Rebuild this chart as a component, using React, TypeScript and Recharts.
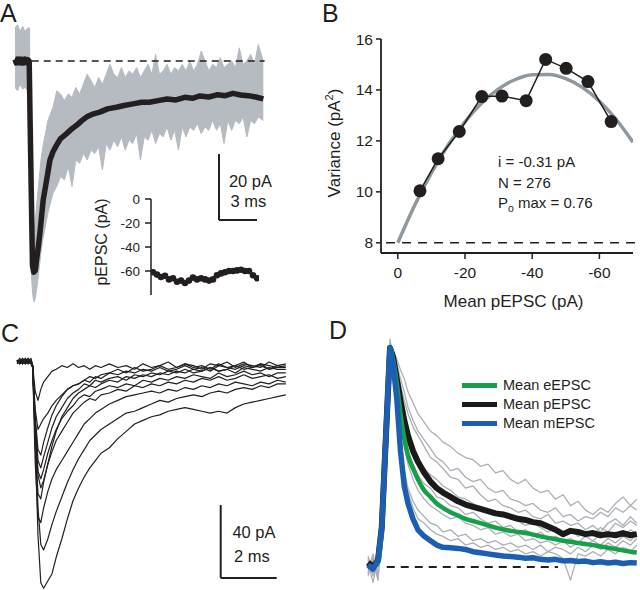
import React from 'react';
import { ComposedChart, LineChart, Line, Area, XAxis, YAxis, ReferenceLine, Legend } from 'recharts';

const FONT = '"Liberation Sans", Arial, Helvetica, sans-serif';
const INK = '#231f20';

// ---------------- Panel A : pEPSC mean (black) and individual trace spread (gray) ----------------
const aMeanT = [0, 0.1, 0.2, 0.3, 0.4, 0.5, 0.6, 0.7, 0.8, 0.9, 1.0, 1.12, 1.2, 1.38, 1.48, 1.6, 1.71, 1.85, 1.97, 2.1, 2.23, 2.5, 2.76, 3.0, 3.28, 3.6, 4.07, 4.5, 4.86, 5.3, 5.64, 6.2, 6.69, 7.3, 8.0, 8.6, 9.3, 10.0, 10.6, 11.3, 12.0, 12.7, 13.4, 14.0, 14.6, 15.3, 16.0, 16.6, 17.2, 17.8, 18.4, 19.0, 19.6];
const aMeanI = [0.5, -0.6, 0.6, -0.5, 0.6, -0.6, 0.5, -0.6, 0.6, -0.5, 0.4, 0, -20, -62, -64, -63.5, -60, -56, -52, -47, -42, -36, -30, -27.5, -25.5, -23.5, -22, -20.5, -19.5, -18, -17, -16, -15.5, -14.5, -14, -13.5, -13, -12.5, -12.5, -12, -11.5, -11.8, -11, -11.3, -10.6, -10.9, -10.2, -10.5, -9.8, -10.3, -10.5, -10.9, -11.5];
const aBandT = [0, 0.2, 0.4, 0.6, 0.8, 1.0, 1.15, 1.2, 1.3, 1.4, 1.5, 1.6, 1.75, 1.9, 2.05, 2.2, 2.4, 2.6, 2.8, 3.0, 3.3, 3.6, 3.9, 4.2, 4.5, 4.8, 5.1, 5.4, 5.7, 6.0, 6.3, 6.6, 6.9, 7.2, 7.5, 7.8, 8.1, 8.4, 8.7, 9.0, 9.3, 9.6, 9.9, 10.2, 10.5, 10.8, 11.1, 11.4, 11.7, 12.0, 12.3, 12.6, 12.9, 13.2, 13.5, 13.8, 14.1, 14.4, 14.7, 15.0, 15.3, 15.6, 15.9, 16.2, 16.5, 16.8, 17.1, 17.4, 17.7, 18.0, 18.3, 18.6, 18.9, 19.2, 19.6];
const aBandHi = [10, 11, 9, 10.5, 9, 10, 10, -25, -40, -48, -52, -48, -42, -36, -30, -26, -22, -18, -16, -14, -9, -10, -12, -10, -11, -8, -10, -7, -4, -6, -8, -5, -7, -4, -1, -4, -5, -2, -5, -3, -4, -2, -5, -3, -1, -4, 2, -4, -3, -1, -4, -2, -3, -1, -3, 0, -3, -1, 3, 0, -3, -1, -2, 1, -2, -1, 0, -2, 4, -1, 0, 2, -1, 5, 0];
const aBandLo = [-8, -9, -7, -8.5, -8, -9, -9, -45, -65, -71, -73, -72, -68, -63, -58, -54, -50, -46, -43, -40, -38, -35, -36, -32, -38, -30, -31, -28, -30, -27, -28, -26, -33, -25, -27, -24, -26, -23, -27, -24, -25, -22, -30, -23, -24, -21, -25, -22, -23, -20, -24, -21, -27, -20, -23, -20, -21, -19, -22, -20, -21, -18, -21, -19, -25, -18, -21, -18, -19, -17, -23, -18, -19, -17, -18];
const aInsetPEPSC = [-61, -63, -65, -64, -67, -66, -69, -68, -70, -68, -65.5, -67, -66, -67, -68, -67, -63.5, -62, -61, -60, -60, -59.5, -59, -60, -60, -63.5, -66];
const aInsetTicks = [0, -20, -40, -60];

// ---------------- Panel B : variance / mean ----------------
const bMeanPEPSC = [-6.6, -12.0, -18.3, -25.0, -31.0, -38.2, -44.0, -50.1, -56.6, -63.5];
const bVariance = [10.04, 11.3, 12.37, 13.74, 13.76, 13.58, 15.2, 14.85, 14.33, 12.76];
const bFitMean = [0, -5, -10, -15, -20, -25, -30, -35, -40, -45, -50, -55, -60, -65, -70];
const bFitVar = [8, 9.46, 10.74, 11.84, 12.75, 13.49, 14.04, 14.41, 14.6, 14.61, 14.44, 14.09, 13.56, 12.84, 11.95];
const bXTicks = [0, -20, -40, -60];
const bYTicks = [8, 10, 12, 14, 16];

// ---------------- Panel C : individual pEPSCs ----------------
const cTime = [0, 0.1, 0.2, 0.3, 0.4, 0.5, 0.56, 0.65, 0.75, 0.85, 0.95, 1.1, 1.25, 1.4, 1.6, 1.8, 2.0, 2.2, 2.4, 2.6, 2.8, 3.0, 3.3, 3.6, 3.9, 4.2, 4.5, 4.8, 5.1, 5.4, 5.7, 6.0, 6.3, 6.6, 6.9, 7.2, 7.5, 7.8, 8.1, 8.4, 8.7, 9.0, 9.3, 9.6];
const cTrace1 = [1, -1, 2, -1, 1, 0, -2, -16, -21, -15, -11, -8, -5, -4, -2, -3, -1, -3, -2, -4, -2, -3, -1, -3, -2, -4, -1, -3, -2, 0, -3, -1, -2, -4, -1, -2, 0, -3, -1, -2, -3, 0, -2, -1];
const cTrace2 = [0, 1, -1, 2, 0, -1, -3, -26, -37, -34, -31, -28, -24, -21, -18, -15, -13, -12, -10, -11, -8, -9, -6, -7, -5, -6, -4, -5, -3, -5, -4, -2, -4, -3, -5, -2, -3, -4, -2, -3, -1, -4, -2, -3];
const cTrace3 = [1, 0, 2, -1, 1, 0, -3, -30, -48, -51, -44, -36, -29, -24, -19, -15, -13, -12, -10, -8, -9, -7, -6, -4, -6, -3, -5, -4, -2, -4, -3, -1, -3, -2, -4, -1, -3, -2, 0, -3, -1, -2, -3, -2];
const cTrace4 = [-1, 1, 0, 2, -1, 1, -2, -32, -54, -58, -52, -44, -36, -30, -25, -20, -17, -15, -12, -13, -10, -11, -9, -8, -10, -7, -8, -6, -7, -5, -6, -4, -6, -5, -3, -5, -4, -6, -3, -4, -5, -3, -4, -4];
const cTrace5 = [0, -1, 1, 0, 2, -1, -3, -34, -60, -64, -59, -50, -43, -37, -31, -27, -24, -20, -18, -19, -16, -15, -13, -14, -12, -13, -10, -11, -9, -10, -8, -9, -7, -8, -9, -6, -8, -7, -5, -7, -6, -8, -6, -6];
const cTrace6 = [1, 0, -1, 1, 0, 2, -2, -36, -62, -69, -65, -56, -46, -38, -30, -25, -20, -17, -15, -13, -14, -12, -10, -11, -8, -9, -7, -8, -6, -7, -5, -6, -4, -5, -3, -5, -4, -2, -4, -3, -2, -4, -3, -3];
const cTrace7 = [0, 2, 0, -1, 1, 0, -3, -45, -72, -75, -66, -56, -49, -43, -38, -33, -28, -25, -22, -20, -21, -18, -17, -15, -16, -13, -14, -12, -13, -11, -12, -10, -11, -9, -10, -8, -10, -9, -7, -9, -8, -7, -9, -8];
const cTrace8 = [1, -1, 0, 1, -1, 0, -2, -55, -85, -88, -80, -71, -64, -59, -54, -49, -44, -39, -34, -31, -28, -26, -23, -21, -19, -18, -17, -16, -17, -15, -16, -14, -15, -13, -14, -12, -13, -11, -12, -13, -11, -12, -10, -11];
const cTrace9 = [0, 1, -1, 0, 2, 0, -2, -40, -80, -100, -103, -97, -89, -82, -74, -66, -59, -53, -48, -43, -40, -37, -34, -31, -28, -27, -25, -23, -21, -22, -20, -19, -18, -19, -17, -16, -17, -15, -14, -15, -13, -14, -12, -12];
const cTrace10 = [1, 0, 1, -1, 0, 1, -2, -42, -95, -121, -124, -120, -116, -107, -97, -86, -76, -69, -63, -58, -54, -50, -47, -42, -38, -34, -32, -30, -29, -27, -26, -25, -26, -27, -28, -27, -28, -25, -23, -22, -21, -20, -19, -18];

// ---------------- Panel D : normalised currents ----------------
const dTime = [0, 0.2, 0.4, 0.55, 0.65, 0.75, 0.88, 1.0, 1.15, 1.3, 1.45, 1.6, 1.8, 2.0, 2.25, 2.5, 2.75, 3.0, 3.3, 3.6, 3.9, 4.2, 4.5, 4.8, 5.1, 5.4, 5.7, 6.0, 6.3, 6.6, 6.9, 7.2, 7.5, 7.8, 8.1, 8.4, 8.7, 9.0, 9.3, 9.6, 9.9, 10.2, 10.5, 10.75];
const dMeanE = [0, 0, 0.02, 0.18, 0.43, 0.68, 1.0, 0.95, 0.84, 0.7, 0.59, 0.51, 0.45, 0.4, 0.35, 0.32, 0.29, 0.27, 0.25, 0.235, 0.22, 0.21, 0.2, 0.19, 0.18, 0.172, 0.165, 0.16, 0.155, 0.148, 0.14, 0.133, 0.127, 0.12, 0.115, 0.11, 0.105, 0.1, 0.094, 0.088, 0.082, 0.076, 0.07, 0.066];
const dMeanP = [0.02, 0, 0.03, 0.18, 0.43, 0.68, 1.0, 0.96, 0.86, 0.76, 0.67, 0.6, 0.53, 0.48, 0.43, 0.39, 0.36, 0.34, 0.32, 0.3, 0.285, 0.275, 0.265, 0.255, 0.245, 0.24, 0.23, 0.22, 0.215, 0.205, 0.2, 0.185, 0.17, 0.15, 0.165, 0.16, 0.15, 0.155, 0.145, 0.15, 0.145, 0.155, 0.145, 0.15];
const dMeanM = [0.01, -0.01, 0.03, 0.18, 0.43, 0.68, 1.0, 0.93, 0.77, 0.53, 0.37, 0.29, 0.22, 0.17, 0.14, 0.12, 0.1, 0.09, 0.088, 0.085, 0.08, 0.07, 0.065, 0.06, 0.055, 0.05, 0.048, 0.045, 0.04, 0.042, 0.035, 0.032, 0.035, 0.028, 0.03, 0.025, 0.027, 0.02, 0.024, 0.018, 0.022, 0.016, 0.02, 0.018];
const dCell1 = [0.03, -0.04, 0.05, 0.2, 0.46, 0.74, 1.03, 0.99, 0.95, 0.9, 0.86, 0.8, 0.75, 0.7, 0.66, 0.62, 0.6, 0.57, 0.55, 0.52, 0.5, 0.49, 0.46, 0.47, 0.43, 0.44, 0.4, 0.38, 0.4, 0.36, 0.34, 0.35, 0.31, 0.33, 0.28, 0.3, 0.26, 0.24, 0.27, 0.25, 0.29, 0.32, 0.28, 0.31];
const dCell2 = [-0.02, 0.04, -0.03, 0.16, 0.4, 0.7, 0.98, 0.97, 0.9, 0.83, 0.76, 0.7, 0.64, 0.6, 0.55, 0.5, 0.48, 0.45, 0.41, 0.4, 0.36, 0.37, 0.33, 0.3, 0.31, 0.28, 0.27, 0.25, 0.26, 0.23, 0.22, 0.24, 0.2, 0.21, 0.19, 0.2, 0.17, 0.19, 0.16, 0.2, 0.22, 0.19, 0.23, 0.2];
const dCell3 = [0.05, -0.02, 0.02, 0.22, 0.48, 0.77, 1.01, 0.94, 0.82, 0.7, 0.6, 0.53, 0.47, 0.42, 0.38, 0.36, 0.32, 0.31, 0.28, 0.27, 0.24, 0.25, 0.22, 0.2, 0.21, 0.18, 0.19, 0.16, 0.17, 0.14, 0.16, 0.13, 0.14, 0.12, 0.13, 0.11, 0.14, 0.12, 0.15, 0.13, 0.16, 0.14, 0.17, 0.15];
const dCell4 = [-0.04, 0.03, -0.06, 0.15, 0.42, 0.72, 0.99, 0.9, 0.72, 0.56, 0.44, 0.36, 0.3, 0.26, 0.23, 0.2, 0.19, 0.16, 0.17, 0.14, 0.15, 0.12, 0.13, 0.11, 0.12, 0.1, 0.11, 0.09, 0.1, 0.08, 0.1, 0.07, 0.09, 0.08, 0.06, 0.09, 0.07, 0.1, 0.08, 0.11, 0.09, 0.12, 0.1, 0.13];
const dCell5 = [0.02, -0.07, 0.04, 0.19, 0.45, 0.75, 1.04, 0.88, 0.7, 0.52, 0.42, 0.34, 0.27, 0.22, 0.2, 0.17, 0.15, 0.14, 0.12, 0.13, 0.1, 0.11, 0.09, 0.1, 0.08, 0.09, 0.07, 0.08, 0.06, 0.07, 0.05, 0.07, 0.06, 0.04, -0.06, 0.06, 0.05, 0.07, 0.05, 0.08, 0.06, 0.09, 0.07, 0.1];
const dCell6 = [-0.01, 0.05, -0.03, 0.17, 0.44, 0.7, 0.97, 0.96, 0.88, 0.78, 0.7, 0.63, 0.55, 0.5, 0.45, 0.42, 0.4, 0.37, 0.35, 0.32, 0.31, 0.29, 0.27, 0.26, 0.24, 0.25, 0.22, 0.21, 0.19, 0.2, 0.18, 0.16, 0.18, 0.15, 0.17, 0.14, 0.16, 0.15, 0.18, 0.16, 0.2, 0.18, 0.21, 0.19];
const dCell7 = [0.04, -0.03, 0.02, 0.2, 0.47, 0.76, 1.0, 0.93, 0.8, 0.66, 0.55, 0.47, 0.4, 0.35, 0.31, 0.28, 0.26, 0.24, 0.22, 0.23, 0.2, 0.19, 0.17, 0.18, 0.15, 0.16, 0.14, 0.15, 0.12, 0.13, 0.11, 0.12, 0.1, 0.12, 0.09, 0.11, 0.1, 0.12, 0.1, 0.13, 0.11, 0.14, 0.12, 0.15];
const dCell8 = [-0.03, 0.06, -0.05, 0.18, 0.45, 0.73, 1.02, 0.98, 0.93, 0.86, 0.8, 0.73, 0.67, 0.62, 0.58, 0.54, 0.5, 0.48, 0.44, 0.45, 0.41, 0.39, 0.4, 0.36, 0.34, 0.35, 0.31, 0.3, 0.28, 0.29, 0.26, 0.25, 0.27, 0.23, 0.24, 0.21, 0.23, 0.22, 0.25, 0.23, 0.27, 0.25, 0.28, 0.26];
const dLegendOrder = ['Mean eEPSC', 'Mean pEPSC', 'Mean mEPSC'];

// ---------------- derived tables ----------------
const aMeanData = aMeanT.map((t, k) => ({ t, i: aMeanI[k] }));
const aBandData = aBandT.map((t, k) => ({ t, band: [aBandLo[k], aBandHi[k]] }));
const aInsetData = aInsetPEPSC.map((v, k) => ({ k, v }));
const bPoints = bMeanPEPSC.map((x, k) => ({ x, v: bVariance[k] }));
const bFit = bFitMean.map((x, k) => ({ x, v: bFitVar[k] }));
const cTraces = [cTrace1, cTrace2, cTrace3, cTrace4, cTrace5, cTrace6, cTrace7, cTrace8, cTrace9, cTrace10];
const cData = cTime.map((t, k) => {
  const row: any = { t };
  cTraces.forEach((tr, j) => { row['s' + j] = tr[k]; });
  return row;
});
const dCells = [dCell1, dCell2, dCell3, dCell4, dCell5, dCell6, dCell7, dCell8];
const dData = dTime.map((t, k) => {
  const row: any = { t, e: dMeanE[k], p: dMeanP[k], m: dMeanM[k] };
  dCells.forEach((c, j) => { row['g' + j] = c[k]; });
  return row;
});

const DLegend = (props: any) => {
  const items = (props.payload || [])
    .filter((p: any) => dLegendOrder.includes(p.value))
    .sort((a: any, b: any) => dLegendOrder.indexOf(a.value) - dLegendOrder.indexOf(b.value));
  return (
    <div style={{ fontFamily: FONT, fontSize: 14.5, color: INK }}>
      {items.map((it: any) => (
        <div key={it.value} style={{ display: 'flex', alignItems: 'center', height: 19, whiteSpace: 'nowrap' }}>
          <span style={{ display: 'inline-block', width: 35, height: 5, background: it.color, marginRight: 6 }} />
          <span>{it.value}</span>
        </div>
      ))}
    </div>
  );
};

const abs = (left: number, top: number): React.CSSProperties => ({ position: 'absolute', left, top });
const zero = { top: 0, right: 0, bottom: 0, left: 0 };

export default function App() {
  return (
    <div style={{ position: 'absolute', left: 0, top: 0, width: 640, height: 590, overflow: 'hidden', background: '#fff', fontFamily: FONT }}>
      {/* Panel A */}
      <div style={abs(0, 0)}>
        <ComposedChart width={300} height={310} margin={zero}>
          <XAxis type="number" dataKey="t" domain={[-1.184, 22.494]} hide allowDataOverflow />
          <YAxis type="number" domain={[-75.455, 18.485]} hide allowDataOverflow />
          <Area data={aBandData} dataKey="band" type="linear" stroke="#b5bbc1" strokeWidth={1} strokeLinejoin="round" fill="#b5bbc1" fillOpacity={1} dot={false} activeDot={false} isAnimationActive={false} />
          <Line data={aMeanData} dataKey="i" type="linear" stroke={INK} strokeWidth={5.5} strokeLinejoin="round" strokeLinecap="butt" dot={false} activeDot={false} isAnimationActive={false} />
          <ReferenceLine segment={[{ x: 1.32, y: 0 }, { x: 19.7, y: 0 }]} stroke={INK} strokeWidth={1.5} strokeDasharray="7 5" />
          <ReferenceLine segment={[{ x: 16.1, y: -28.2 }, { x: 16.1, y: -48.2 }]} stroke={INK} strokeWidth={2} />
          <ReferenceLine segment={[{ x: 16.1, y: -48.2 }, { x: 19.1, y: -48.2 }]} stroke={INK} strokeWidth={2} />
        </ComposedChart>
      </div>
      {/* Panel A inset */}
      <div style={abs(95, 185)}>
        <LineChart width={175} height={115} data={aInsetData} margin={{ top: 14, right: 11, bottom: 5, left: 0 }}>
          <XAxis type="number" dataKey="k" domain={[-0.5, 26.5]} hide allowDataOverflow />
          <YAxis type="number" domain={[-80, 0]} ticks={aInsetTicks} width={56} tickSize={6} tickMargin={5}
            axisLine={{ stroke: INK, strokeWidth: 1.5 }} tickLine={{ stroke: INK, strokeWidth: 1.5 }}
            tick={{ fontSize: 13.5, fill: INK, fontFamily: FONT }} allowDataOverflow />
          <Line dataKey="v" stroke="none" dot={{ r: 3.3, fill: INK, stroke: 'none' }} activeDot={false} isAnimationActive={false} />
        </LineChart>
      </div>
      {/* Panel B */}
      <div style={abs(320, 0)}>
        <LineChart width={320} height={310} margin={{ top: 39, right: 7, bottom: 2, left: 0 }}>
          <XAxis type="number" dataKey="x" domain={[-70, 5]} reversed ticks={bXTicks} height={55} tickSize={6} tickMargin={8}
            axisLine={{ stroke: INK, strokeWidth: 1.8 }} tickLine={{ stroke: INK, strokeWidth: 1.5 }}
            tick={{ fontSize: 15.5, fill: INK, fontFamily: FONT }} allowDataOverflow />
          <YAxis type="number" domain={[7.6, 16]} ticks={bYTicks} width={61} tickSize={5} tickMargin={3}
            axisLine={{ stroke: INK, strokeWidth: 1.8 }} tickLine={{ stroke: INK, strokeWidth: 1.5 }}
            tick={{ fontSize: 15.5, fill: INK, fontFamily: FONT }} allowDataOverflow />
          <ReferenceLine segment={[{ x: 3.5, y: 8 }, { x: -71, y: 8 }]} stroke={INK} strokeWidth={1.5} strokeDasharray="9 7" ifOverflow="visible" />
          <Line data={bFit} dataKey="v" type="monotone" stroke="#8e989e" strokeWidth={3.5} dot={false} activeDot={false} isAnimationActive={false} />
          <Line data={bPoints} dataKey="v" type="linear" stroke={INK} strokeWidth={1.5} dot={{ r: 6.5, fill: INK, stroke: 'none' }} activeDot={false} isAnimationActive={false} />
        </LineChart>
      </div>
      {/* Panel C */}
      <div style={abs(0, 299)}>
        <LineChart width={320} height={291} data={cData} margin={zero}>
          <XAxis type="number" dataKey="t" domain={[-0.607, 10.821]} hide allowDataOverflow />
          <YAxis type="number" domain={[-124.93, 34.52]} hide allowDataOverflow />
          {cTraces.map((_, j) => (
            <Line key={j} dataKey={'s' + j} type="linear" stroke={INK} strokeWidth={1.2} strokeLinejoin="round" dot={false} activeDot={false} isAnimationActive={false} />
          ))}
          <ReferenceLine segment={[{ x: 7.275, y: -78.4 }, { x: 7.275, y: -118.4 }]} stroke={INK} strokeWidth={2} />
          <ReferenceLine segment={[{ x: 7.275, y: -118.4 }, { x: 9.275, y: -118.4 }]} stroke={INK} strokeWidth={2} />
        </LineChart>
      </div>
      {/* Panel D */}
      <div style={abs(320, 300)}>
        <LineChart width={320} height={290} data={dData} margin={zero}>
          <XAxis type="number" dataKey="t" domain={[-1.92, 10.88]} hide allowDataOverflow />
          <YAxis type="number" domain={[-0.105, 1.2192]} hide allowDataOverflow />
          <ReferenceLine segment={[{ x: 0.75, y: 0 }, { x: 7.6, y: 0 }]} stroke={INK} strokeWidth={2} strokeDasharray="8 6" />
          {dCells.map((_, j) => (
            <Line key={j} dataKey={'g' + j} type="linear" stroke="#aab0b6" strokeWidth={1.3} strokeLinejoin="round" dot={false} activeDot={false} legendType="none" isAnimationActive={false} />
          ))}
          <Line dataKey="p" name="Mean pEPSC" type="linear" stroke="#1a1a1a" strokeWidth={6} strokeLinejoin="round" dot={false} activeDot={false} isAnimationActive={false} />
          <Line dataKey="e" name="Mean eEPSC" type="monotone" stroke="#17a04a" strokeWidth={4.5} strokeLinejoin="round" dot={false} activeDot={false} isAnimationActive={false} />
          <Line dataKey="m" name="Mean mEPSC" type="linear" stroke="#1c5fb2" strokeWidth={5.5} strokeLinejoin="round" dot={false} activeDot={false} isAnimationActive={false} />
          <Legend layout="vertical" align="center" verticalAlign="middle" content={DLegend}
            wrapperStyle={{ position: 'absolute', left: 142, top: 75.5, width: 'auto', height: 'auto' }} />
        </LineChart>
      </div>
      {/* Text annotations */}
      <svg width={640} height={590} style={{ position: 'absolute', left: 0, top: 0, pointerEvents: 'none' }} fontFamily={FONT} fill={INK}>
        <text x={0} y={22} fontSize={25}>A</text>
        <text x={322} y={22} fontSize={25}>B</text>
        <text x={1} y={342} fontSize={25}>C</text>
        <text x={329} y={338.5} fontSize={25}>D</text>
        <text x={250.5} y={186.5} fontSize={16.5} textAnchor="middle">20 pA</text>
        <text x={248.5} y={207} fontSize={16.5} textAnchor="middle">3 ms</text>
        <text x={254} y={538} fontSize={16.5} textAnchor="middle">40 pA</text>
        <text x={252} y={561.5} fontSize={16.5} textAnchor="middle">2 ms</text>
        <text x={498} y={167} fontSize={15}>i = -0.31 pA</text>
        <text x={498} y={187.5} fontSize={15}>N = 276</text>
        <text x={498} y={208} fontSize={15}>P<tspan dy={4} fontSize={10.5}>o</tspan><tspan dy={-4}> max = 0.76</tspan></text>
        <text x={340} y={143} fontSize={17} textAnchor="middle" transform="rotate(-90 340 143)">Variance (pA<tspan dy={-7} fontSize={11}>2</tspan><tspan dy={7}>)</tspan></text>
        <text x={513.5} y={307} fontSize={17} textAnchor="middle">Mean pEPSC (pA)</text>
        <text x={107} y={242} fontSize={16} textAnchor="middle" transform="rotate(-90 107 242)">pEPSC (pA)</text>
      </svg>
    </div>
  );
}
